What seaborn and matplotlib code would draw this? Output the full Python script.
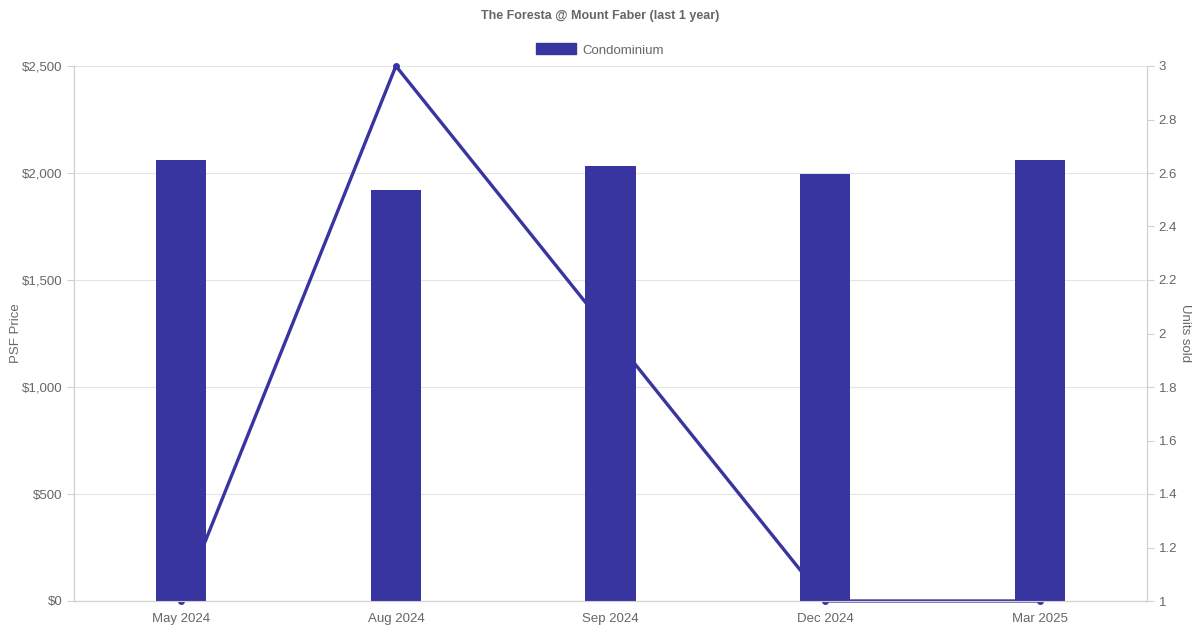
import matplotlib
matplotlib.use("Agg")
import matplotlib.pyplot as plt
import seaborn as sns
import pandas as pd
from matplotlib.patches import Patch
from matplotlib.ticker import FuncFormatter, MultipleLocator

months = ["May 2024", "Aug 2024", "Sep 2024", "Dec 2024", "Mar 2025"]
psf_price = [2061, 1921, 2033, 1995, 2061]
units_sold = [1, 3, 2, 1, 1]

color = "#3935a0"
txt = "#666666"
grid = "#e5e5e5"

sns.set_theme(style="white")
plt.rcParams["font.family"] = ["Liberation Sans", "DejaVu Sans"]

df = pd.DataFrame({"month": months, "psf": psf_price, "units": units_sold})

fig = plt.figure(figsize=(12, 6.3), dpi=100)
ax = fig.add_axes([74/1200, 1-601/630, (1147-74)/1200, (601-66)/630])
ax2 = ax.twinx()

sns.barplot(data=df, x="month", y="psf", ax=ax, color=color, width=0.233,
            saturation=1, edgecolor=color, linewidth=0)
sns.lineplot(data=df, x="month", y="units", ax=ax2, color=color, linewidth=2.4,
             marker="o", markersize=5, markeredgewidth=0, sort=False)
for ln in ax2.lines:
    ln.set_clip_on(False)

ax.set_zorder(ax2.get_zorder() + 1)
ax.patch.set_visible(False)

ax.set_xlim(-0.5, 4.5)
ax.set_ylim(0, 2500)
ax.yaxis.set_major_locator(MultipleLocator(500))
ax.yaxis.set_major_formatter(FuncFormatter(lambda v, p: f"${v:,.0f}"))
ax2.set_ylim(1, 3)
ax2.yaxis.set_major_locator(MultipleLocator(0.2))
ax2.yaxis.set_major_formatter(FuncFormatter(lambda v, p: f"{v:g}"))

ax2.grid(False)
ax.grid(False)
for y in range(0, 2501, 500):
    ax2.axhline(1 + y / 1250, color=grid, linewidth=0.8, zorder=0)

for a in (ax, ax2):
    for s in a.spines.values():
        s.set_color("#d0d0d0")
        s.set_linewidth(0.8)
    a.spines["top"].set_visible(False)
    a.tick_params(axis="both", colors="#d0d0d0", labelcolor=txt, labelsize=9.5,
                  length=5, width=0.8, direction="out")
ax.tick_params(axis="x", length=5)
ax2.tick_params(axis="x", length=0)

ax.set_xlabel("")
ax.set_ylabel("PSF Price", color=txt, fontsize=9.5, labelpad=0)
ax2.set_ylabel("Units sold", color=txt, fontsize=9.5, rotation=270, labelpad=10)
ax2.set_xlabel("")

fig.text(0.5, 1-16/630, "The Foresta @ Mount Faber (last 1 year)", ha="center", va="center",
         fontsize=9, fontweight="bold", color=txt)
fig.legend(handles=[Patch(facecolor=color, edgecolor=color, label="Condominium")],
           loc="center", bbox_to_anchor=(0.5, 1-50/630), frameon=False,
           fontsize=9.5, labelcolor=txt, handlelength=3.0, handleheight=0.9,
           handletextpad=0.5)

fig.savefig("out.png", dpi=100)
